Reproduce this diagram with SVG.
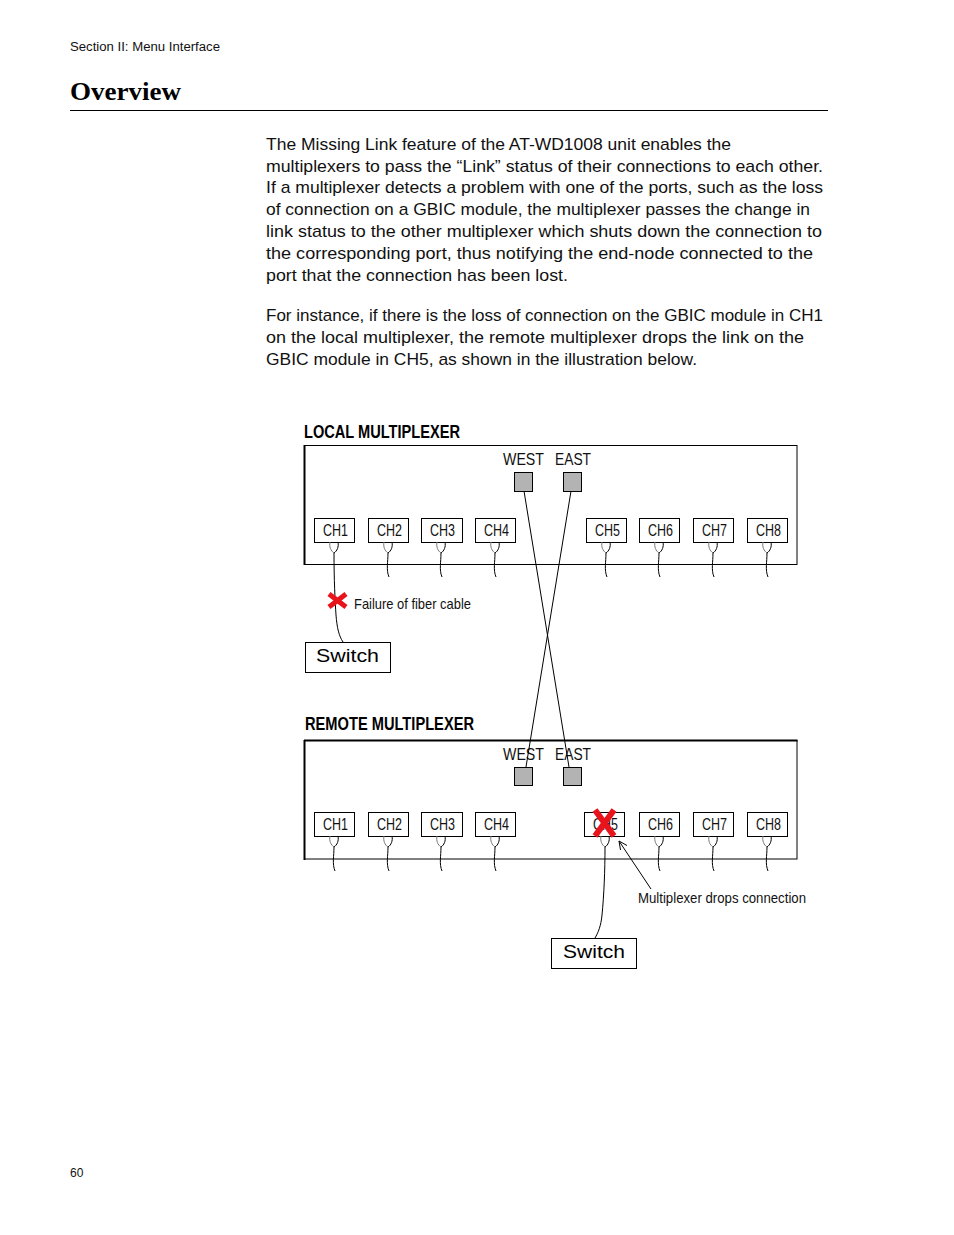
<svg xmlns="http://www.w3.org/2000/svg" xmlns:xlink="http://www.w3.org/1999/xlink" width="954" height="1235" viewBox="0 0 954 1235">
<style>
.body{font-family:"Liberation Sans",Arial,sans-serif;font-size:17px;fill:#111}
.hdr{font-family:"Liberation Sans",Arial,sans-serif;font-size:12px;fill:#111}
.ttl{font-family:"Liberation Serif","Times New Roman",serif;font-size:26px;font-weight:bold;fill:#000}
.cond{font-family:"Liberation Sans",Arial,sans-serif;fill:#111}
.lbl{font-family:"Liberation Sans",Arial,sans-serif;font-weight:bold;font-size:18px;fill:#000}
.box{fill:#fff;stroke:#000;stroke-width:1}
.port{fill:#b3b3b3;stroke:#000;stroke-width:1}
.ln{fill:none;stroke:#000;stroke-width:1}
.sw{font-family:"Liberation Sans",Arial,sans-serif;font-size:19px;fill:#000}
.redx{stroke:#e8141b;stroke-width:5;stroke-linecap:butt}
</style>
<defs>
<g id="fiberY">
<path d="M-4,0 C-5,5 -3,9 0,11" fill="none" stroke="#777" stroke-width="1"/>
<path d="M4,0 C5,5 3,9 0,11" fill="none" stroke="#000" stroke-width="1"/>
</g>
<g id="fiber">
<use xlink:href="#fiberY"/>
<path d="M0,11 C0,20 -2,28 1,35" fill="none" stroke="#000" stroke-width="1"/>
</g>
</defs>

<g id="header">
<text class="hdr" x="70" y="51" textLength="150" lengthAdjust="spacingAndGlyphs">Section II:  Menu Interface</text>
<text class="ttl" x="70" y="100" textLength="111" lengthAdjust="spacingAndGlyphs">Overview</text>
<line x1="70" y1="110.5" x2="828" y2="110.5" stroke="#000" stroke-width="1"/>
<text class="hdr" x="70" y="1177">60</text>
</g>

<g id="paragraphs">
<text class="body" x="266" y="150" textLength="465" lengthAdjust="spacingAndGlyphs">The Missing Link feature of the AT-WD1008 unit enables the</text>
<text class="body" x="266" y="172" textLength="557" lengthAdjust="spacingAndGlyphs">multiplexers to pass the “Link” status of their connections to each other.</text>
<text class="body" x="266" y="193" textLength="557" lengthAdjust="spacingAndGlyphs">If a multiplexer detects a problem with one of the ports, such as the loss</text>
<text class="body" x="266" y="215" textLength="544" lengthAdjust="spacingAndGlyphs">of connection on a GBIC module, the multiplexer passes the change in</text>
<text class="body" x="266" y="237" textLength="556" lengthAdjust="spacingAndGlyphs">link status to the other multiplexer which shuts down the connection to</text>
<text class="body" x="266" y="259" textLength="547" lengthAdjust="spacingAndGlyphs">the corresponding port, thus notifying the end-node connected to the</text>
<text class="body" x="266" y="281" textLength="302" lengthAdjust="spacingAndGlyphs">port that the connection has been lost.</text>
<text class="body" x="266" y="321" textLength="557" lengthAdjust="spacingAndGlyphs">For instance, if there is the loss of connection on the GBIC module in CH1</text>
<text class="body" x="266" y="343" textLength="538" lengthAdjust="spacingAndGlyphs">on the local multiplexer, the remote multiplexer drops the link on the</text>
<text class="body" x="266" y="365" textLength="431" lengthAdjust="spacingAndGlyphs">GBIC module in CH5, as shown in the illustration below.</text>
</g>

<g id="local-mux">
<text class="lbl" x="304" y="438" textLength="156" lengthAdjust="spacingAndGlyphs">LOCAL MULTIPLEXER</text>
<rect x="304.5" y="445.5" width="492.5" height="119" fill="#fff" stroke="#000" stroke-width="1"/>
<line x1="304.5" y1="445" x2="304.5" y2="565" stroke="#000" stroke-width="2"/>
<text class="cond" x="503" y="465" font-size="17" textLength="41" lengthAdjust="spacingAndGlyphs">WEST</text>
<text class="cond" x="555" y="465" font-size="17" textLength="36" lengthAdjust="spacingAndGlyphs">EAST</text>
<rect class="port" x="514.5" y="472.5" width="18" height="19"/>
<rect class="port" x="563.5" y="472.5" width="18" height="19"/>
</g>

<g id="local-channels">
<rect class="box" x="314.5" y="518.5" width="40" height="24"/><text class="cond" x="323" y="536" font-size="16" textLength="25" lengthAdjust="spacingAndGlyphs">CH1</text>
<rect class="box" x="368.5" y="518.5" width="40" height="24"/><text class="cond" x="377" y="536" font-size="16" textLength="25" lengthAdjust="spacingAndGlyphs">CH2</text>
<rect class="box" x="421.5" y="518.5" width="41" height="24"/><text class="cond" x="430" y="536" font-size="16" textLength="25" lengthAdjust="spacingAndGlyphs">CH3</text>
<rect class="box" x="475.5" y="518.5" width="40" height="24"/><text class="cond" x="484" y="536" font-size="16" textLength="25" lengthAdjust="spacingAndGlyphs">CH4</text>
<rect class="box" x="586.5" y="518.5" width="40" height="24"/><text class="cond" x="595" y="536" font-size="16" textLength="25" lengthAdjust="spacingAndGlyphs">CH5</text>
<rect class="box" x="639.5" y="518.5" width="40" height="24"/><text class="cond" x="648" y="536" font-size="16" textLength="25" lengthAdjust="spacingAndGlyphs">CH6</text>
<rect class="box" x="693.5" y="518.5" width="40" height="24"/><text class="cond" x="702" y="536" font-size="16" textLength="25" lengthAdjust="spacingAndGlyphs">CH7</text>
<rect class="box" x="747.5" y="518.5" width="40" height="24"/><text class="cond" x="756" y="536" font-size="16" textLength="25" lengthAdjust="spacingAndGlyphs">CH8</text>
</g>

<g id="remote-mux">
<text class="lbl" x="305" y="730" textLength="169" lengthAdjust="spacingAndGlyphs">REMOTE MULTIPLEXER</text>
<rect x="304.5" y="740.5" width="492.5" height="118.5" fill="#fff" stroke="#000" stroke-width="1"/>
<line x1="304.5" y1="740" x2="304.5" y2="860" stroke="#000" stroke-width="2"/>
<line x1="304" y1="740.5" x2="797.5" y2="740.5" stroke="#000" stroke-width="2"/>
<text class="cond" x="503" y="760" font-size="17" textLength="41" lengthAdjust="spacingAndGlyphs">WEST</text>
<text class="cond" x="555" y="760" font-size="17" textLength="36" lengthAdjust="spacingAndGlyphs">EAST</text>
<rect class="port" x="514.5" y="767.5" width="18" height="18"/>
<rect class="port" x="563.5" y="767.5" width="18" height="18"/>
</g>

<g id="remote-channels">
<rect class="box" x="314.5" y="812.5" width="40" height="24"/><text class="cond" x="323" y="830" font-size="16" textLength="25" lengthAdjust="spacingAndGlyphs">CH1</text>
<rect class="box" x="368.5" y="812.5" width="40" height="24"/><text class="cond" x="377" y="830" font-size="16" textLength="25" lengthAdjust="spacingAndGlyphs">CH2</text>
<rect class="box" x="421.5" y="812.5" width="41" height="24"/><text class="cond" x="430" y="830" font-size="16" textLength="25" lengthAdjust="spacingAndGlyphs">CH3</text>
<rect class="box" x="475.5" y="812.5" width="40" height="24"/><text class="cond" x="484" y="830" font-size="16" textLength="25" lengthAdjust="spacingAndGlyphs">CH4</text>
<rect class="box" x="584.5" y="812.5" width="40" height="24"/><text class="cond" x="593" y="830" font-size="16" textLength="25" lengthAdjust="spacingAndGlyphs">CH5</text>
<rect class="box" x="639.5" y="812.5" width="40" height="24"/><text class="cond" x="648" y="830" font-size="16" textLength="25" lengthAdjust="spacingAndGlyphs">CH6</text>
<rect class="box" x="693.5" y="812.5" width="40" height="24"/><text class="cond" x="702" y="830" font-size="16" textLength="25" lengthAdjust="spacingAndGlyphs">CH7</text>
<rect class="box" x="747.5" y="812.5" width="40" height="24"/><text class="cond" x="756" y="830" font-size="16" textLength="25" lengthAdjust="spacingAndGlyphs">CH8</text>
</g>

<g id="switch-local">
<rect class="box" x="305.5" y="642.5" width="85" height="30"/>
<text class="sw" x="316" y="662" textLength="63" lengthAdjust="spacingAndGlyphs">Switch</text>
</g>
<g id="switch-remote">
<rect class="box" x="551.5" y="938.5" width="85" height="30"/>
<text class="sw" x="563" y="958" textLength="62" lengthAdjust="spacingAndGlyphs">Switch</text>
</g>

<g id="connectors">
<use xlink:href="#fiberY" x="334" y="542"/>
<path class="ln" d="M334,553 C334,580 335,600 336,615 C337,628 339,636 343,642"/>
<use xlink:href="#fiber" x="388" y="542"/>
<use xlink:href="#fiber" x="441" y="542"/>
<use xlink:href="#fiber" x="495" y="542"/>
<use xlink:href="#fiber" x="606" y="542"/>
<use xlink:href="#fiber" x="659" y="542"/>
<use xlink:href="#fiber" x="713" y="542"/>
<use xlink:href="#fiber" x="767" y="542"/>

<use xlink:href="#fiber" x="334" y="836"/>
<use xlink:href="#fiber" x="388" y="836"/>
<use xlink:href="#fiber" x="441" y="836"/>
<use xlink:href="#fiber" x="495" y="836"/>
<use xlink:href="#fiberY" x="605" y="836"/>
<path class="ln" d="M605,847 C605,870 604,895 602,915 C601,926 598,933 595,938"/>
<use xlink:href="#fiber" x="659" y="836"/>
<use xlink:href="#fiber" x="713" y="836"/>
<use xlink:href="#fiber" x="767" y="836"/>

<line class="ln" x1="524" y1="491" x2="569" y2="767"/>
<line class="ln" x1="571" y1="491" x2="526" y2="767"/>

<line class="ln" x1="651" y1="889" x2="619" y2="841"/>
<path class="ln" d="M620.5,850 L619,841 L627,845.5"/>
</g>

<g id="annotations">
<line class="redx" x1="329" y1="594" x2="346" y2="607"/>
<line class="redx" x1="346" y1="594" x2="329" y2="607"/>
<text class="cond" x="354" y="609" font-size="15" textLength="117" lengthAdjust="spacingAndGlyphs">Failure of fiber cable</text>
<line class="redx" x1="595" y1="810" x2="614" y2="836" style="stroke-width:6"/>
<line class="redx" x1="614" y1="810" x2="595" y2="836" style="stroke-width:6"/>
<text class="cond" x="638" y="903" font-size="15" textLength="168" lengthAdjust="spacingAndGlyphs">Multiplexer drops connection</text>
</g>
</svg>
